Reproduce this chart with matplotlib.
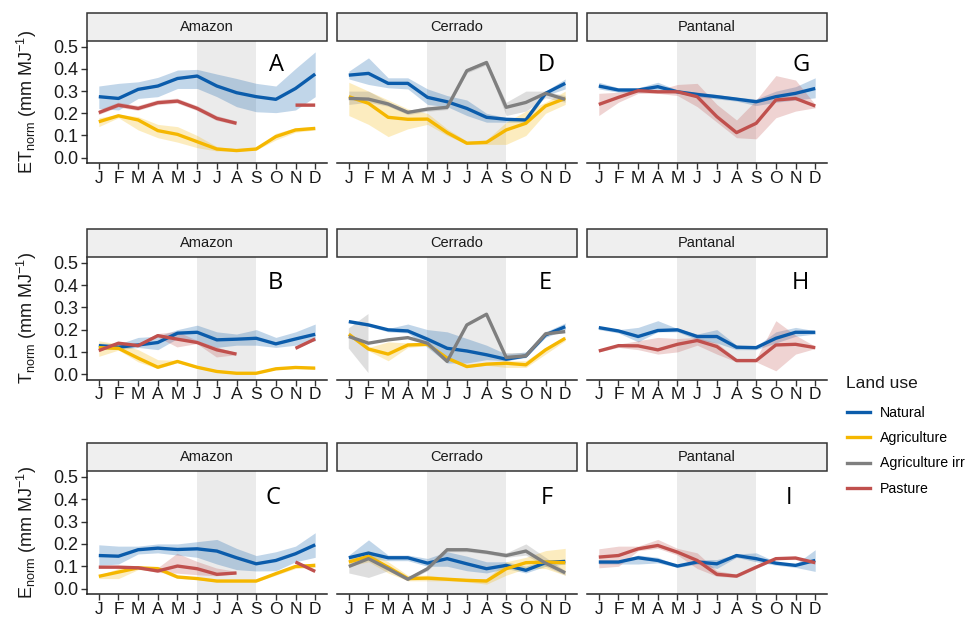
import numpy as np
import matplotlib
matplotlib.use("Agg")
import matplotlib.pyplot as plt
from matplotlib.patches import Rectangle
from matplotlib.lines import Line2D

nan = np.nan

# ---------------- data ----------------
MONTHS = ['J', 'F', 'M', 'A', 'M', 'J', 'J', 'A', 'S', 'O', 'N', 'D']
REGIONS = ['Amazon', 'Cerrado', 'Pantanal']
LAND_USES = ['Natural', 'Agriculture', 'Agriculture irr', 'Pasture']
DRY_START = [6, 5, 5]   # month index of dry season start (per region)
DRY_END = [9, 9, 9]
PANEL_LETTERS = [['A', 'D', 'G'], ['B', 'E', 'H'], ['C', 'F', 'I']]
Y_TICKS = [0.0, 0.1, 0.2, 0.3, 0.4, 0.5]

# ---- ET ----
ET_AMZ_NAT = [0.275, 0.267, 0.308, 0.323, 0.357, 0.368, 0.323, 0.293, 0.275, 0.263, 0.312, 0.377]
ET_AMZ_NAT_LO = [0.222, 0.215, 0.267, 0.275, 0.312, 0.312, 0.275, 0.230, 0.207, 0.203, 0.215, 0.275]
ET_AMZ_NAT_HI = [0.323, 0.335, 0.342, 0.362, 0.395, 0.398, 0.377, 0.357, 0.335, 0.323, 0.402, 0.477]
ET_AMZ_AGR = [0.162, 0.189, 0.170, 0.122, 0.105, 0.072, 0.039, 0.032, 0.039, 0.095, 0.125, 0.132]
ET_AMZ_AGR_LO = [0.140, 0.180, 0.125, 0.090, 0.070, 0.045, 0.030, 0.030, 0.035, 0.080, 0.115, 0.125]
ET_AMZ_AGR_HI = [0.180, 0.195, 0.185, 0.150, 0.140, 0.100, 0.050, 0.040, 0.045, 0.110, 0.135, 0.140]
ET_AMZ_PAS = [0.203, 0.237, 0.222, 0.248, 0.255, 0.222, 0.177, 0.155, nan, nan, 0.237, 0.237]
ET_AMZ_PAS_LO = [0.192, 0.226, 0.211, 0.237, 0.244, 0.211, 0.166, 0.146, nan, nan, 0.230, 0.230]
ET_AMZ_PAS_HI = [0.214, 0.248, 0.233, 0.259, 0.266, 0.233, 0.188, 0.164, nan, nan, 0.244, 0.244]

ET_CER_NAT = [0.372, 0.380, 0.335, 0.335, 0.272, 0.252, 0.222, 0.182, 0.173, 0.170, 0.290, 0.335]
ET_CER_NAT_LO = [0.355, 0.330, 0.315, 0.310, 0.240, 0.230, 0.190, 0.160, 0.160, 0.160, 0.280, 0.310]
ET_CER_NAT_HI = [0.390, 0.450, 0.360, 0.360, 0.310, 0.280, 0.260, 0.200, 0.180, 0.180, 0.300, 0.355]
ET_CER_AGR = [0.275, 0.245, 0.182, 0.173, 0.174, 0.113, 0.065, 0.069, 0.125, 0.155, 0.233, 0.267]
ET_CER_AGR_LO = [0.190, 0.150, 0.095, 0.130, 0.150, 0.100, 0.060, 0.060, 0.060, 0.100, 0.200, 0.240]
ET_CER_AGR_HI = [0.340, 0.300, 0.260, 0.220, 0.200, 0.130, 0.075, 0.080, 0.160, 0.210, 0.250, 0.300]
ET_CER_IRR = [0.267, 0.264, 0.242, 0.204, 0.219, 0.227, 0.392, 0.429, 0.227, 0.249, 0.290, 0.263]
ET_CER_IRR_LO = [0.240, 0.250, 0.232, 0.194, 0.209, 0.217, 0.382, 0.419, 0.190, 0.210, 0.270, 0.250]
ET_CER_IRR_HI = [0.300, 0.300, 0.252, 0.214, 0.229, 0.237, 0.402, 0.439, 0.250, 0.300, 0.300, 0.280]

ET_PAN_NAT = [0.323, 0.305, 0.305, 0.320, 0.297, 0.285, 0.275, 0.264, 0.252, 0.275, 0.290, 0.312]
ET_PAN_NAT_LO = [0.310, 0.295, 0.295, 0.305, 0.290, 0.275, 0.265, 0.255, 0.235, 0.250, 0.260, 0.270]
ET_PAN_NAT_HI = [0.340, 0.315, 0.315, 0.340, 0.305, 0.295, 0.285, 0.272, 0.265, 0.300, 0.320, 0.360]
ET_PAN_PAS = [0.240, 0.272, 0.302, 0.297, 0.297, 0.275, 0.185, 0.113, 0.155, 0.260, 0.267, 0.233]
ET_PAN_PAS_LO = [0.190, 0.250, 0.290, 0.290, 0.280, 0.230, 0.160, 0.090, 0.085, 0.180, 0.210, 0.225]
ET_PAN_PAS_HI = [0.290, 0.295, 0.310, 0.305, 0.330, 0.335, 0.240, 0.170, 0.260, 0.370, 0.350, 0.240]

# ---- T ----
T_AMZ_NAT = [0.128, 0.121, 0.131, 0.142, 0.184, 0.188, 0.154, 0.157, 0.161, 0.136, 0.158, 0.179]
T_AMZ_NAT_LO = [0.115, 0.110, 0.120, 0.110, 0.160, 0.150, 0.120, 0.130, 0.130, 0.120, 0.130, 0.150]
T_AMZ_NAT_HI = [0.140, 0.135, 0.165, 0.170, 0.200, 0.220, 0.190, 0.180, 0.200, 0.165, 0.190, 0.225]
T_AMZ_AGR = [0.119, 0.116, 0.072, 0.031, 0.057, 0.031, 0.012, 0.004, 0.004, 0.024, 0.030, 0.027]
T_AMZ_AGR_LO = [0.080, 0.108, 0.055, 0.025, 0.052, 0.027, 0.009, 0.002, 0.002, 0.020, 0.026, 0.023]
T_AMZ_AGR_HI = [0.150, 0.135, 0.110, 0.065, 0.062, 0.035, 0.015, 0.007, 0.007, 0.028, 0.034, 0.031]
T_AMZ_PAS = [0.106, 0.139, 0.128, 0.173, 0.157, 0.142, 0.109, 0.090, nan, nan, 0.116, 0.158]
T_AMZ_PAS_LO = [0.100, 0.130, 0.120, 0.165, 0.120, 0.135, 0.075, 0.085, nan, nan, 0.110, 0.150]
T_AMZ_PAS_HI = [0.112, 0.145, 0.135, 0.180, 0.190, 0.150, 0.120, 0.095, nan, nan, 0.122, 0.165]

T_CER_NAT = [0.236, 0.221, 0.199, 0.194, 0.157, 0.116, 0.104, 0.087, 0.067, 0.082, 0.176, 0.213]
T_CER_NAT_LO = [0.230, 0.215, 0.190, 0.185, 0.120, 0.050, 0.050, 0.065, 0.060, 0.075, 0.165, 0.200]
T_CER_NAT_HI = [0.242, 0.228, 0.205, 0.225, 0.200, 0.190, 0.160, 0.130, 0.090, 0.100, 0.190, 0.230]
T_CER_AGR = [0.179, 0.113, 0.090, 0.131, 0.134, 0.072, 0.034, 0.045, 0.049, 0.042, 0.109, 0.161]
T_CER_AGR_LO = [0.170, 0.105, 0.060, 0.120, 0.128, 0.065, 0.030, 0.040, 0.030, 0.030, 0.090, 0.150]
T_CER_AGR_HI = [0.190, 0.120, 0.145, 0.140, 0.140, 0.080, 0.040, 0.050, 0.060, 0.060, 0.120, 0.170]
T_CER_IRR = [0.169, 0.139, 0.154, 0.164, 0.139, 0.057, 0.221, 0.269, 0.075, 0.082, 0.181, 0.191]
T_CER_IRR_LO = [0.115, 0.005, nan, nan, nan, nan, nan, nan, 0.068, 0.072, 0.172, 0.184]
T_CER_IRR_HI = [0.205, 0.270, nan, nan, nan, nan, nan, nan, 0.095, 0.095, 0.190, 0.200]

T_PAN_NAT = [0.209, 0.194, 0.169, 0.196, 0.199, 0.169, 0.169, 0.121, 0.119, 0.161, 0.188, 0.188]
T_PAN_NAT_LO = [0.200, 0.185, 0.145, 0.190, 0.190, 0.155, 0.140, 0.110, 0.110, 0.140, 0.170, 0.180]
T_PAN_NAT_HI = [0.215, 0.200, 0.210, 0.240, 0.205, 0.180, 0.200, 0.130, 0.125, 0.190, 0.210, 0.195]
T_PAN_PAS = [0.104, 0.128, 0.127, 0.109, 0.134, 0.151, 0.124, 0.061, 0.061, 0.131, 0.134, 0.119]
T_PAN_PAS_LO = [0.100, 0.120, 0.110, 0.090, 0.100, 0.130, 0.090, 0.055, 0.055, 0.015, 0.090, 0.115]
T_PAN_PAS_HI = [0.110, 0.135, 0.150, 0.165, 0.160, 0.165, 0.140, 0.070, 0.070, 0.240, 0.175, 0.125]

# ---- E ----
E_AMZ_NAT = [0.148, 0.145, 0.174, 0.181, 0.175, 0.178, 0.168, 0.138, 0.111, 0.126, 0.156, 0.196]
E_AMZ_NAT_LO = [0.104, 0.110, 0.155, 0.160, 0.150, 0.140, 0.110, 0.085, 0.079, 0.080, 0.120, 0.140]
E_AMZ_NAT_HI = [0.196, 0.190, 0.190, 0.200, 0.200, 0.210, 0.220, 0.180, 0.148, 0.165, 0.190, 0.250]
E_AMZ_AGR = [0.055, 0.074, 0.093, 0.089, 0.052, 0.045, 0.034, 0.034, 0.034, 0.067, 0.099, 0.104]
E_AMZ_AGR_LO = [0.045, 0.045, 0.085, 0.080, 0.045, 0.040, 0.030, 0.030, 0.030, 0.060, 0.090, 0.095]
E_AMZ_AGR_HI = [0.060, 0.090, 0.100, 0.100, 0.060, 0.050, 0.040, 0.040, 0.040, 0.075, 0.105, 0.115]
E_AMZ_PAS = [0.096, 0.096, 0.093, 0.079, 0.101, 0.089, 0.064, 0.070, nan, nan, 0.119, 0.077]
E_AMZ_PAS_LO = [0.090, 0.090, 0.088, 0.070, 0.067, 0.060, 0.055, 0.065, nan, nan, 0.113, 0.072]
E_AMZ_PAS_HI = [0.100, 0.100, 0.100, 0.090, 0.156, 0.120, 0.090, 0.075, nan, nan, 0.125, 0.082]

E_CER_NAT = [0.138, 0.159, 0.138, 0.138, 0.114, 0.134, 0.111, 0.089, 0.104, 0.082, 0.116, 0.122]
E_CER_NAT_LO = [0.125, 0.135, 0.125, 0.125, 0.100, 0.100, 0.080, 0.070, 0.090, 0.070, 0.100, 0.110]
E_CER_NAT_HI = [0.150, 0.218, 0.150, 0.150, 0.135, 0.165, 0.145, 0.120, 0.120, 0.100, 0.130, 0.130]
E_CER_AGR = [0.119, 0.144, 0.096, 0.045, 0.047, 0.042, 0.037, 0.034, 0.089, 0.116, 0.119, 0.116]
E_CER_AGR_LO = [0.100, 0.120, 0.070, 0.035, 0.035, 0.035, 0.030, 0.020, 0.060, 0.090, 0.090, 0.060]
E_CER_AGR_HI = [0.130, 0.170, 0.120, 0.060, 0.060, 0.050, 0.045, 0.045, 0.120, 0.140, 0.170, 0.180]
E_CER_IRR = [0.099, 0.134, 0.089, 0.042, 0.089, 0.174, 0.174, 0.163, 0.148, 0.168, 0.114, 0.071]
E_CER_IRR_LO = [0.070, 0.050, 0.080, 0.035, 0.080, 0.165, 0.165, 0.155, 0.140, 0.150, 0.100, 0.060]
E_CER_IRR_HI = [0.110, 0.160, 0.100, 0.050, 0.100, 0.180, 0.180, 0.170, 0.160, 0.200, 0.140, 0.080]

E_PAN_NAT = [0.119, 0.119, 0.138, 0.126, 0.101, 0.119, 0.111, 0.148, 0.134, 0.114, 0.104, 0.126]
E_PAN_NAT_LO = [0.110, 0.110, 0.110, 0.115, 0.095, 0.110, 0.090, 0.140, 0.120, 0.105, 0.095, 0.077]
E_PAN_NAT_HI = [0.125, 0.125, 0.150, 0.140, 0.105, 0.130, 0.130, 0.155, 0.160, 0.120, 0.110, 0.174]
E_PAN_PAS = [0.141, 0.148, 0.178, 0.193, 0.163, 0.126, 0.064, 0.056, 0.096, 0.134, 0.137, 0.116]
E_PAN_PAS_LO = [0.093, 0.100, 0.170, 0.180, 0.150, 0.090, 0.055, 0.050, 0.090, 0.130, 0.130, 0.110]
E_PAN_PAS_HI = [0.178, 0.190, 0.190, 0.220, 0.180, 0.160, 0.080, 0.065, 0.100, 0.140, 0.140, 0.120]

# table built from the lists above: rows = variable, cols = region
PANEL_DATA = [
    [  # ET
        {'Natural': (ET_AMZ_NAT, ET_AMZ_NAT_LO, ET_AMZ_NAT_HI),
         'Agriculture': (ET_AMZ_AGR, ET_AMZ_AGR_LO, ET_AMZ_AGR_HI),
         'Pasture': (ET_AMZ_PAS, ET_AMZ_PAS_LO, ET_AMZ_PAS_HI)},
        {'Natural': (ET_CER_NAT, ET_CER_NAT_LO, ET_CER_NAT_HI),
         'Agriculture': (ET_CER_AGR, ET_CER_AGR_LO, ET_CER_AGR_HI),
         'Agriculture irr': (ET_CER_IRR, ET_CER_IRR_LO, ET_CER_IRR_HI)},
        {'Natural': (ET_PAN_NAT, ET_PAN_NAT_LO, ET_PAN_NAT_HI),
         'Pasture': (ET_PAN_PAS, ET_PAN_PAS_LO, ET_PAN_PAS_HI)},
    ],
    [  # T
        {'Natural': (T_AMZ_NAT, T_AMZ_NAT_LO, T_AMZ_NAT_HI),
         'Agriculture': (T_AMZ_AGR, T_AMZ_AGR_LO, T_AMZ_AGR_HI),
         'Pasture': (T_AMZ_PAS, T_AMZ_PAS_LO, T_AMZ_PAS_HI)},
        {'Natural': (T_CER_NAT, T_CER_NAT_LO, T_CER_NAT_HI),
         'Agriculture': (T_CER_AGR, T_CER_AGR_LO, T_CER_AGR_HI),
         'Agriculture irr': (T_CER_IRR, T_CER_IRR_LO, T_CER_IRR_HI)},
        {'Natural': (T_PAN_NAT, T_PAN_NAT_LO, T_PAN_NAT_HI),
         'Pasture': (T_PAN_PAS, T_PAN_PAS_LO, T_PAN_PAS_HI)},
    ],
    [  # E
        {'Natural': (E_AMZ_NAT, E_AMZ_NAT_LO, E_AMZ_NAT_HI),
         'Agriculture': (E_AMZ_AGR, E_AMZ_AGR_LO, E_AMZ_AGR_HI),
         'Pasture': (E_AMZ_PAS, E_AMZ_PAS_LO, E_AMZ_PAS_HI)},
        {'Natural': (E_CER_NAT, E_CER_NAT_LO, E_CER_NAT_HI),
         'Agriculture': (E_CER_AGR, E_CER_AGR_LO, E_CER_AGR_HI),
         'Agriculture irr': (E_CER_IRR, E_CER_IRR_LO, E_CER_IRR_HI)},
        {'Natural': (E_PAN_NAT, E_PAN_NAT_LO, E_PAN_NAT_HI),
         'Pasture': (E_PAN_PAS, E_PAN_PAS_LO, E_PAN_PAS_HI)},
    ],
]

Y_LABELS = [r'ET$_{\mathrm{norm}}$ (mm MJ$^{-1}$)',
            r'T$_{\mathrm{norm}}$ (mm MJ$^{-1}$)',
            r'E$_{\mathrm{norm}}$ (mm MJ$^{-1}$)']

# ---------------- style ----------------
COLORS = {'Natural': '#0b5cab', 'Agriculture': '#f5b700',
          'Agriculture irr': '#7f7f7f', 'Pasture': '#c0504d'}
plt.rcParams['font.family'] = ['Liberation Sans', 'DejaVu Sans']
plt.rcParams['mathtext.fontset'] = 'custom'
plt.rcParams['mathtext.rm'] = 'Liberation Sans'
plt.rcParams['mathtext.it'] = 'Liberation Sans:italic'
plt.rcParams['mathtext.bf'] = 'Liberation Sans:bold'

W, H = 971, 620
fig = plt.figure(figsize=(W / 100, H / 100), dpi=100)

COL_X = [(87, 327), (337, 577), (587, 827)]
ROW_Y = [(41, 163), (257, 379.5), (471, 594)]
STRIP_H = 28
LETTER_X = [[10.05, 11.05, 11.3], [10.0, 11.0, 11.25], [9.85, 11.05, 10.65]]
LETTER_Y = [0.418, 0.408, 0.405]

x = np.arange(1, 13)
for r in range(3):
    for c in range(3):
        x0, x1 = COL_X[c]
        y0, y1 = ROW_Y[r]
        ax = fig.add_axes([x0 / W, 1 - y1 / H, (x1 - x0) / W, (y1 - y0) / H])
        ax.set_xlim(0.4, 12.6)
        ax.set_ylim(-0.024, 0.526)
        ax.axvspan(DRY_START[c], DRY_END[c], color='#ebebeb', zorder=0, lw=0)
        data = PANEL_DATA[r][c]
        for lu in LAND_USES:
            if lu in data:
                m, lo, hi = data[lu]
                ax.fill_between(x, np.array(lo, float), np.array(hi, float),
                                color=COLORS[lu], alpha=0.25, lw=0, zorder=1)
        for lu in LAND_USES:
            if lu in data:
                m, lo, hi = data[lu]
                ax.plot(x, np.array(m, float), color=COLORS[lu], lw=2.4,
                        solid_capstyle='butt', solid_joinstyle='round', zorder=3)
        for s in ['top', 'right']:
            ax.spines[s].set_visible(False)
        ax.spines['bottom'].set_color('#222222')
        ax.spines['bottom'].set_linewidth(1.1)
        ax.set_xticks(x)
        ax.set_xticklabels(MONTHS, fontsize=12.5, color='#1a1a1a')
        ax.tick_params(axis='x', length=4, width=1.0, color='#333333', pad=1.5)
        if c == 0:
            ax.spines['left'].set_color('#222222')
            ax.spines['left'].set_linewidth(1.1)
            ax.set_yticks(Y_TICKS)
            ax.set_yticklabels(['%.1f' % v for v in Y_TICKS], fontsize=13, color='#1a1a1a')
            ax.tick_params(axis='y', length=4, width=1.0, color='#333333', pad=2)
        else:
            ax.spines['left'].set_visible(False)
            ax.set_yticks([])
        ax.text(LETTER_X[r][c], LETTER_Y[r], PANEL_LETTERS[r][c], fontsize=17,
                family=['Open Sans', 'DejaVu Sans'], ha='center', va='center', color='black', zorder=5)
        # strip
        sax = fig.add_axes([x0 / W, 1 - y0 / H, (x1 - x0) / W, STRIP_H / H])
        sax.set_xlim(0, 1)
        sax.set_ylim(0, 1)
        sax.add_patch(Rectangle((0, 0), 1, 1, facecolor='#efefef', edgecolor='#333333',
                                lw=1.1, transform=sax.transAxes, clip_on=False))
        sax.axis('off')
        sax.text(0.5, 0.5, REGIONS[c], ha='center', va='center', fontsize=10.5, color='#1a1a1a')
    yc = (ROW_Y[r][0] + ROW_Y[r][1]) / 2
    fig.text(27 / W, 1 - yc / H, Y_LABELS[r], rotation=90, ha='center', va='center',
             fontsize=13, color='#1a1a1a')

# legend
fig.text(846 / W, 1 - 383 / H, 'Land use', fontsize=12.5, ha='left', va='center', color='#1a1a1a')
handles = [Line2D([0], [0], color=COLORS[lu], lw=2.4) for lu in LAND_USES]
leg = fig.legend(handles, LAND_USES, loc='upper left', bbox_to_anchor=(844 / W, 1 - 403 / H),
                 frameon=False, fontsize=10.2,
                 handlelength=1.6, handletextpad=0.75, labelspacing=0.8, borderaxespad=0,
                 borderpad=0.2)

fig.savefig('out.png', dpi=100)
